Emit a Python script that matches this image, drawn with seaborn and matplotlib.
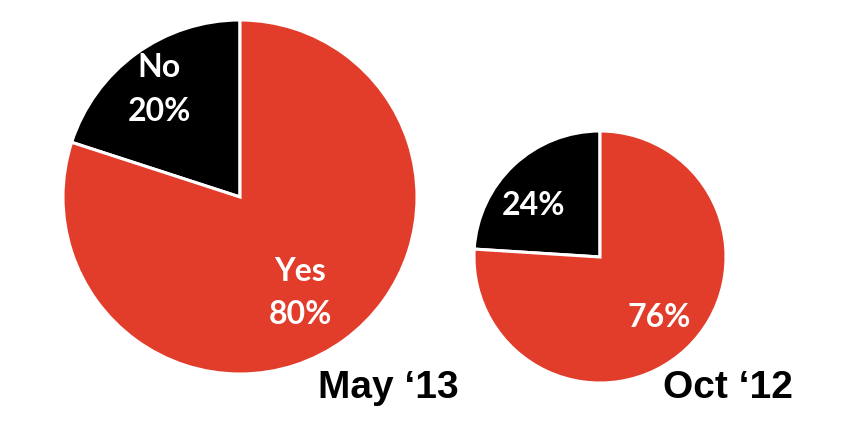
import numpy as np
import matplotlib
matplotlib.use('Agg')
import matplotlib.pyplot as plt
import seaborn as sns

sns.set_theme(style='white')
plt.rcParams['font.family'] = ['Lato', 'DejaVu Sans']

# 数据
periods = ['May ‘13', 'Oct ‘12']
no_share = [20, 24]
yes_share = [80, 76]
slice_labels = [['No\n20%', 'Yes\n80%'], ['24%', '76%']]

RED = '#E23D2B'
BLACK = '#000000'

# 画布: 像素坐标
W, H = 844, 421
fig = plt.figure(figsize=(W / 100, H / 100), dpi=100)
ax = fig.add_axes([0, 0, 1, 1])

# 每个饼的位置与大小 (像素)
centers = [(240, H - 197), (600, H - 257)]
radii = [177, 126]
explodes = [0.025, 0.03]
label_dist = [[0.76, 0.64], [0.67, 0.67]]
label_turn = [[1, -4], [9, 1]]  # 标签相对扇区中线的角度偏移
title_pos = [(318, H - 398), (663, H - 398)]

for i in range(len(periods)):
    vals = [no_share[i], yes_share[i]]
    wedges, _ = ax.pie(vals, colors=[BLACK, RED], startangle=90,
                       counterclock=True, center=centers[i], radius=radii[i],
                       explode=[explodes[i], 0],
                       wedgeprops={'edgecolor': 'white', 'linewidth': 2.2})
    cx, cy = centers[i]
    for j, w in enumerate(wedges):
        ang = np.deg2rad((w.theta1 + w.theta2) / 2 + label_turn[i][j])
        d = label_dist[i][j] * radii[i]
        ax.text(cx + d * np.cos(ang), cy + d * np.sin(ang), slice_labels[i][j],
                ha='center', va='center', color='white', fontsize=23,
                fontweight='bold', linespacing=1.6)
    ax.text(title_pos[i][0], title_pos[i][1], periods[i], ha='left', va='baseline',
            fontsize=28, fontweight='bold', color='black',
            family=['Liberation Sans', 'DejaVu Sans'])

ax.set_xlim(0, W)
ax.set_ylim(0, H)
ax.set_aspect('equal')
ax.axis('off')

plt.savefig('out.png', dpi=100)
plt.close()
